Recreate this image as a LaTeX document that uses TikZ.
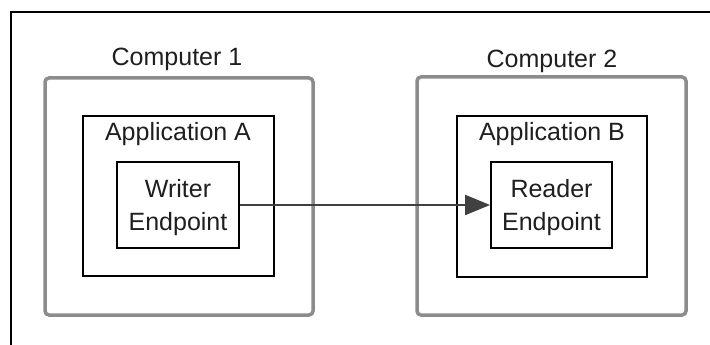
\documentclass[tikz,border=0pt]{standalone}
\usepackage{fontspec}
\setmainfont{Liberation Sans}
\usetikzlibrary{arrows.meta}
\begin{document}
\begin{tikzpicture}[x=1pt,y=-1pt,
  every node/.style={font=\fontsize{25}{32}\selectfont, text=black!88},
  computer/.style={draw=black!45, line width=3.5pt, rounded corners=4pt, inner sep=0pt},
  appbox/.style={draw=black, line width=1.8pt, inner sep=0pt},
  endpoint/.style={draw=black, line width=1.8pt, inner sep=0pt, align=center},
  label/.style={anchor=base, inner sep=0pt},
  link/.style={draw=black!75, line width=2pt, -{Triangle[length=25pt,width=20pt]}}
]
% canvas and open frame
\path[fill=white] (0,0) rectangle (710,345);
\useasboundingbox (0,0) rectangle (710,345);
\draw[line width=2.2pt] (11,345) -- (11,12) -- (710,12);

% Computer 1
\node[computer, minimum width=268pt, minimum height=237pt] (comp1) at (179,196.5) {};
\node[label] (comp1label) at (177,66) {Computer 1};
\node[appbox, minimum width=191pt, minimum height=160pt] (appA) at (178.5,196) {};
\node[label] (appAlabel) at (178,140) {Application A};
\node[endpoint, minimum width=122pt, minimum height=86pt] (writer) at (178,205) {};
\node[label] (writerl1) at (178,197) {Writer};
\node[label] (writerl2) at (178,230) {Endpoint};

% Computer 2
\node[computer, minimum width=269pt, minimum height=238pt] (comp2) at (551.5,196) {};
\node[label] (comp2label) at (552,67) {Computer 2};
\node[appbox, minimum width=190pt, minimum height=161pt] (appB) at (552,196.5) {};
\node[label] (appBlabel) at (552,140) {Application B};
\node[endpoint, minimum width=121pt, minimum height=86pt] (reader) at (551.5,205) {};
\node[label] (readerl1) at (551.5,197) {Reader};
\node[label] (readerl2) at (551.5,230) {Endpoint};

% data flow from writer to reader
\draw[link] (writer.east) -- (reader.west);
\end{tikzpicture}
\end{document}
